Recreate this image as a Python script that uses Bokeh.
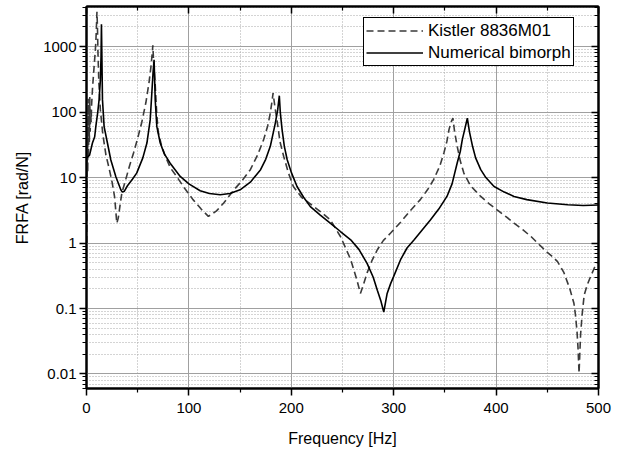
from bokeh.plotting import figure
from bokeh.models import (Range1d, FixedTicker, LinearAxis, LogAxis,
                          CustomJSTickFormatter, Legend, LegendItem)
from bokeh.embed import file_html
from bokeh.resources import INLINE

# ---- data ----
kistler_f = [0.3, 0.8, 1.2, 1.6, 2.0, 2.4, 2.8, 3.2, 3.6, 4.0, 4.5, 5.0, 5.8, 6.6, 7.4, 8.3,
             9.1, 9.7, 10.2, 10.7, 11.2, 12.0, 13.5, 16, 19, 22, 25, 27.5, 29.6, 31, 33, 34.5,
             38, 42, 46, 50, 54, 58, 61, 63, 64.2, 64.8, 65.5, 67, 68.5, 70, 73, 77, 82, 88,
             96, 104, 112, 119, 127, 134, 144, 152, 160, 167, 173, 177, 179.5, 181, 182.2,
             184, 186, 189, 192.6, 197, 202, 210, 222, 230, 238, 248, 258, 264, 267.5, 270,
             274, 279, 284, 290, 297, 307, 316, 326, 333, 339, 345, 349, 352, 354, 356, 357.8,
             359.5, 362, 365, 368.5, 375, 385, 393, 401, 410, 417.5, 426, 434, 442, 450, 455,
             460, 466, 472, 476, 477.5, 479, 480, 481, 482.5, 484, 486, 489, 492, 496, 500]
kistler_a = [1.0, 60, 12, 160, 20, 130, 35, 170, 50, 110, 70, 130, 220, 330, 490, 750,
             1150, 2000, 3400, 2000, 800, 300, 110, 45, 22, 14, 8.5, 5.0, 2.0, 2.4, 4.0, 5.8,
             9, 15, 24, 40, 70, 140, 280, 500, 800, 1050, 600, 280, 100, 50, 32, 21, 14, 10.4,
             6.8, 4.6, 3.3, 2.55, 3.1, 4.1, 6.5, 9, 13.2, 22, 38, 62, 97, 140, 195,
             120, 76, 35, 21, 12, 7.3, 5.0, 3.6, 2.9, 2.27, 1.26, 0.56, 0.275, 0.17, 0.22,
             0.35, 0.55, 0.79, 1.1, 1.42, 2.1, 3.1, 4.6, 6.5, 9.3, 15, 23.7, 36, 54, 70, 81,
             50, 30, 18, 11.7, 7.5, 5.15, 4.0, 3.2, 2.5, 2.02, 1.6, 1.26, 0.95, 0.72, 0.62,
             0.52, 0.36, 0.2, 0.12, 0.08, 0.045, 0.025, 0.0103, 0.04, 0.08, 0.16, 0.23, 0.3, 0.42, 0.52]

bimorph_f = [0.3, 3, 5.8, 8, 9.1, 11, 12.3, 13.5, 14.2, 14.6, 15.1, 15.6, 17.2, 20.4, 23.7,
             28.6, 33.5, 35, 37, 40, 45, 49, 55, 59, 62.2, 63.8, 65, 66, 66.6, 67.1, 68.7, 72,
             76, 81.7, 91.5, 100, 111, 120, 130.6, 140, 150, 160, 170, 175, 179.5, 184.4,
             186.7, 188.3, 189.3, 191, 193.2, 196, 200, 205.6, 212, 218.6, 228, 238, 248, 258,
             266, 274, 280, 284, 287.5, 290.3, 293.6, 297, 300, 306.7, 313, 320, 328, 336, 344,
             352, 357, 362, 365, 367, 370, 371.9, 374, 377, 380, 385, 390, 398, 408, 417.5,
             430, 450, 470, 485, 500]
bimorph_a = [20, 22, 33.7, 42, 60, 100, 155, 300, 700, 2200, 600, 155, 60, 34, 18.7,
             10.4, 6.5, 6.0, 6.2, 7.5, 9.5, 11.7, 20, 33.7, 76, 196, 400, 630, 300, 155, 60, 33.7,
             23, 16.6, 10.4, 8, 6.3, 5.7, 5.45, 5.7, 6.5, 8.5, 13.2, 19, 30, 68,
             108, 178, 97, 54, 30, 18.7, 12, 7.3, 5.0, 3.6, 2.7, 2.02, 1.5, 1.12,
             0.8, 0.49, 0.3, 0.19, 0.13, 0.088, 0.17, 0.24, 0.31, 0.556, 0.84, 1.12, 1.6, 2.27, 3.3,
             5.15, 8, 16.7, 25, 38, 60, 81, 50, 30, 20, 13.2, 10, 7.3, 6.0, 5.15,
             4.6, 4.08, 3.85, 3.75, 3.8]

x_ticks = [0, 100, 200, 300, 400, 500]
x_minor = [50, 150, 250, 350, 450]
y_ticks = [0.01, 0.1, 1, 10, 100, 1000]
y_minor = [m * d for d in [0.001, 0.01, 0.1, 1, 10, 100, 1000] for m in range(2, 10)]

FONT = "Liberation Sans"

p = figure(frame_width=512, frame_height=382, x_range=Range1d(0, 500),
           y_range=Range1d(0.006, 4100), y_axis_type="log",
           output_backend="svg", toolbar_location=None,
           min_border_left=86, min_border_right=20, min_border_top=6, min_border_bottom=50)
p.background_fill_color = "white"
p.border_fill_color = "white"
p.outline_line_color = "black"
p.outline_line_width = 2

xt = FixedTicker(ticks=x_ticks, minor_ticks=x_minor)
yt = FixedTicker(ticks=y_ticks, minor_ticks=y_minor)
yfmt = CustomJSTickFormatter(code="return tick >= 1 ? tick.toFixed(0) : String(parseFloat(tick.toPrecision(3)));")

for ax in (p.xaxis[0], p.yaxis[0]):
    ax.axis_line_width = 2
    ax.major_tick_line_width = 1.5
    ax.minor_tick_line_width = 1.2
    ax.major_tick_out = 7
    ax.major_tick_in = 0
    ax.minor_tick_out = 4
    ax.minor_tick_in = 0
    ax.major_label_text_font = FONT
    ax.major_label_text_font_size = "15px"
    ax.major_label_text_color = "black"
    ax.axis_label_text_font = FONT
    ax.axis_label_text_font_style = "normal"
    ax.axis_label_text_font_size = "16px"
    ax.axis_label_text_color = "black"

p.xaxis[0].ticker = xt
p.yaxis[0].ticker = yt
p.yaxis[0].formatter = yfmt
p.xaxis[0].axis_label = "Frequency [Hz]"
p.yaxis[0].axis_label = "FRFA [rad/N]"
p.xaxis[0].major_label_standoff = 7
p.yaxis[0].major_label_standoff = 3
p.xaxis[0].axis_label_standoff = 14
p.yaxis[0].axis_label_standoff = 9

mirror = dict(major_label_text_font_size="1px", major_label_text_color=None,
              major_tick_in=7, major_tick_out=0, minor_tick_in=4, minor_tick_out=0,
              axis_line_width=2, major_label_standoff=0,
              major_tick_line_width=1.5, minor_tick_line_width=1.2)
top = LinearAxis(ticker=xt, **mirror)
right = LogAxis(ticker=yt, **mirror)
p.add_layout(top, "above")
p.add_layout(right, "right")

for g in (p.xgrid[0], p.ygrid[0]):
    g.grid_line_color = "#a0a0a0"
    g.grid_line_width = 1
    g.minor_grid_line_color = "#a8a8a8"
    g.minor_grid_line_dash = "1 2"
    g.minor_grid_line_width = 1
p.xgrid[0].ticker = xt
p.ygrid[0].ticker = yt

r1 = p.line(kistler_f, kistler_a, line_color="#3a3a3a", line_width=1.6, line_dash="7 4")
r2 = p.line(bimorph_f, bimorph_a, line_color="black", line_width=1.6)

legend = Legend(items=[LegendItem(label="Kistler 8836M01", renderers=[r1]),
                       LegendItem(label="Numerical bimorph", renderers=[r2])],
                location=(277, 322), orientation="vertical",
                border_line_color="black", border_line_width=1, border_line_alpha=1,
                background_fill_color="white", background_fill_alpha=1,
                label_text_font=FONT, label_text_font_size="17px", label_text_color="black",
                glyph_width=57, glyph_height=21, label_height=21, spacing=1, padding=2,
                label_standoff=5, margin=0)
p.add_layout(legend)

open("out.html", "w").write(file_html(p, INLINE))
